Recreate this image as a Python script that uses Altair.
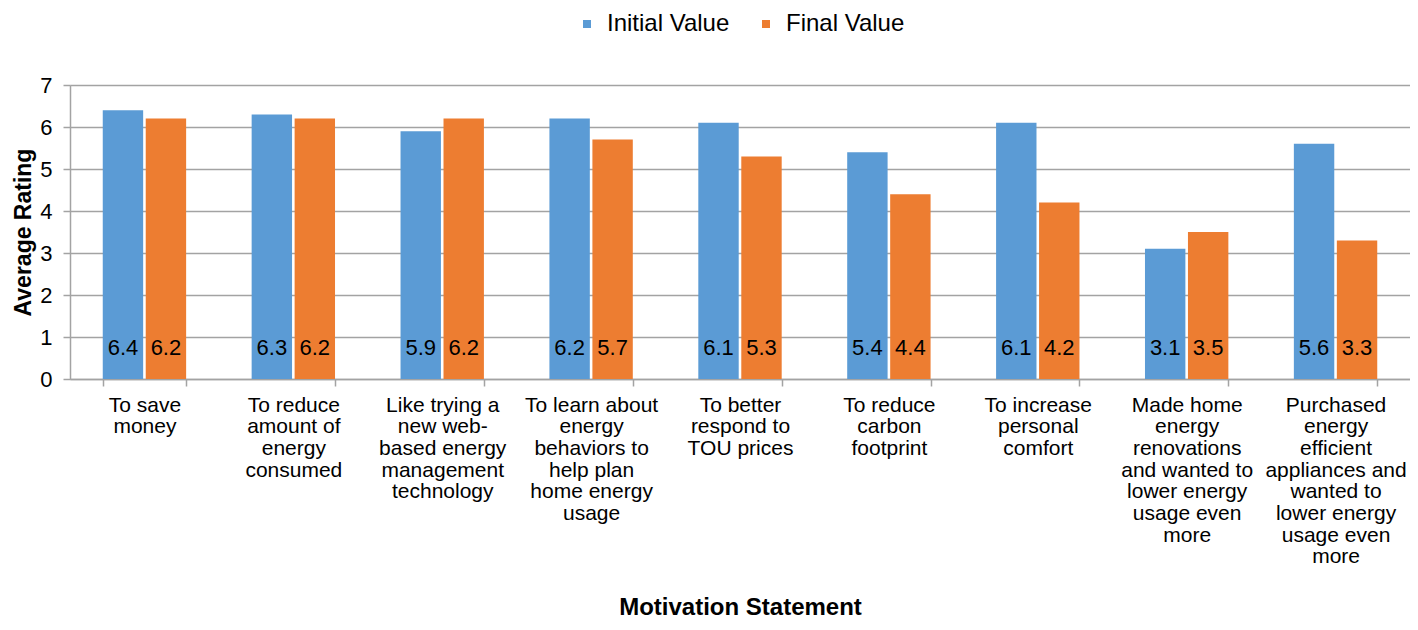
import altair as alt
import pandas as pd

categories = [
    "To save|money",
    "To reduce|amount of|energy|consumed",
    "Like trying a|new web-|based energy|management|technology",
    "To learn about|energy|behaviors to|help plan|home energy|usage",
    "To better|respond to|TOU prices",
    "To reduce|carbon|footprint",
    "To increase|personal|comfort",
    "Made home|energy|renovations|and wanted to|lower energy|usage even|more",
    "Purchased|energy|efficient|appliances and|wanted to|lower energy|usage even|more",
]
initial_values = [6.4, 6.3, 5.9, 6.2, 6.1, 5.4, 6.1, 3.1, 5.6]
final_values = [6.2, 6.2, 6.2, 5.7, 5.3, 4.4, 4.2, 3.5, 3.3]
series_names = ["Initial Value", "Final Value"]
series_colors = ["#5b9bd5", "#ed7d31"]
y_ticks = [0, 1, 2, 3, 4, 5, 6, 7]

rows = []
for c, a, b in zip(categories, initial_values, final_values):
    rows.append({"cat": c, "series": series_names[0], "value": a})
    rows.append({"cat": c, "series": series_names[1], "value": b})
df = pd.DataFrame(rows)

FONT = "Liberation Sans"
GRAY = "#a3a3a3"

x_enc = alt.X(
    "cat:N",
    sort=categories,
    scale=alt.Scale(paddingInner=0.44, paddingOuter=0.22),
    axis=alt.Axis(
        title="Motivation Statement",
        titleFontSize=24,
        titleFontWeight="bold",
        titleFont=FONT,
        titleColor="#000000",
        titleY=235,
        titleBaseline="alphabetic",
        labelExpr="split(datum.label, '|')",
        labelAngle=0,
        labelFontSize=21,
        labelFont=FONT,
        labelColor="#000000",
        labelLineHeight=21.7,
        labelPadding=8,
        labelBaseline="top",
        tickBand="extent",
        tickSize=7,
        tickColor=GRAY,
        tickWidth=1.5,
        domainColor=GRAY,
        domainWidth=1.5,
        grid=False,
        labelLimit=300,
    ),
)
xoff = alt.XOffset(
    "series:N",
    sort=series_names,
    scale=alt.Scale(domain=series_names, paddingInner=0.06),
)

bars = alt.Chart(df).mark_bar().encode(
    x=x_enc,
    xOffset=xoff,
    y=alt.Y(
        "value:Q",
        scale=alt.Scale(domain=[0, 7]),
        axis=alt.Axis(
            title="Average Rating",
            titleFontSize=23,
            titleFontWeight="bold",
            titleFont=FONT,
            titleColor="#000000",
            titlePadding=4,
            values=y_ticks,
            labelFontSize=22,
            labelFont=FONT,
            labelColor="#000000",
            labelPadding=11,
            tickSize=7,
            tickColor=GRAY,
            tickWidth=1.5,
            domainColor=GRAY,
            domainWidth=1.5,
            gridColor=GRAY,
            gridWidth=1.5,
        ),
    ),
    color=alt.Color(
        "series:N",
        sort=series_names,
        scale=alt.Scale(domain=series_names, range=series_colors),
        legend=alt.Legend(
            title=None,
            orient="none",
            legendX=505,
            legendY=-73,
            direction="horizontal",
            symbolType="square",
            symbolSize=64,
            symbolStrokeWidth=0,
            labelFontSize=24,
            labelFont=FONT,
            labelColor="#000000",
            columnPadding=24,
            labelOffset=8,
        ),
    ),
)

labels = alt.Chart(df).mark_text(
    fontSize=22, font=FONT, color="#000000", baseline="middle"
).encode(
    x=alt.X("cat:N", sort=categories),
    xOffset=xoff,
    y=alt.datum(0.75),
    text=alt.Text("value:Q", format=".1f"),
)

chart = (
    alt.layer(bars, labels)
    .properties(
        width=1340,
        height=294,
        autosize=alt.AutoSizeParams(type="none"),
        padding={"left": 62, "top": 77, "right": 0, "bottom": 243},
    )
    .configure_view(stroke=None)
    .configure(background="white")
)

chart.save("out.html", embed_options={"renderer": "svg", "actions": False})
